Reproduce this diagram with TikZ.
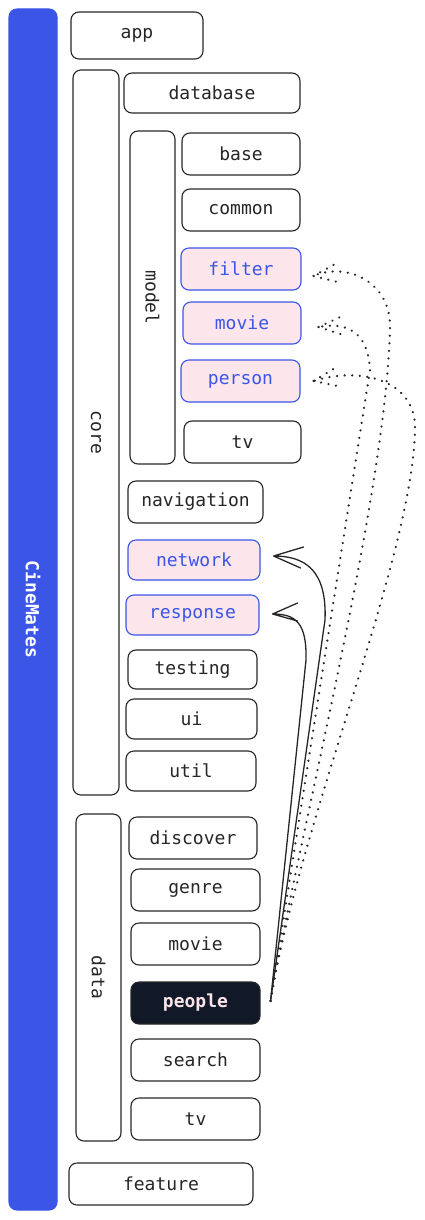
\documentclass[tikz,border=0pt]{standalone}
\usepackage{fontspec}
\setmonofont{DejaVu Sans Mono}
\usetikzlibrary{arrows.meta}
\definecolor{cmblue}{HTML}{3B55E6}
\definecolor{cmpink}{HTML}{FCE6EB}
\definecolor{cmdark}{HTML}{111827}
\definecolor{cmtext}{HTML}{FBE3E8}
\tikzset{
  box/.style={draw=black!85, line width=1.1pt, rounded corners=8pt, inner sep=0pt,
    font=\fontsize{18}{21}\selectfont\ttfamily, text=black!85},
  hl/.style={box, draw=cmblue, fill=cmpink, text=cmblue},
  vbox/.style={box, rotate=-90},
  dep/.style={draw=black!85, line width=1.3pt, line cap=round, line join=round},
  dotdep/.style={draw=black!85, line cap=round, dash pattern=on 0.1pt off 7.5pt, line width=2.4pt},
}
\begin{document}
\begin{tikzpicture}[x=1pt,y=-1pt]
\useasboundingbox (0,0) rectangle (425,1220);
% main bar
\node[box, draw=cmblue, fill=cmblue, rotate=-90, minimum width=1201pt, minimum height=48pt,
  text=white, font=\fontsize{18}{21}\selectfont\ttfamily\bfseries] (bar) at (33,609.5) {CineMates};
% top level
\node[box, minimum width=132pt, minimum height=47pt] (app) at (137,35.5) {app};
\node[vbox, minimum width=725pt, minimum height=46pt] (core) at (96,432.5) {core};
\node[box, minimum width=176pt, minimum height=40pt] (database) at (212,93) {database};
\node[vbox, minimum width=333pt, minimum height=45pt] (model) at (152.5,297.5) {model};
\node[box, minimum width=118pt, minimum height=42pt] (base) at (241,154) {base};
\node[box, minimum width=118pt, minimum height=42pt] (common) at (241,210) {common};
\node[hl, minimum width=120pt, minimum height=42pt] (filter) at (241,269) {filter};
\node[hl, minimum width=118pt, minimum height=42pt] (mmovie) at (242,323) {movie};
\node[hl, minimum width=119pt, minimum height=42pt] (person) at (240.5,381) {person};
\node[box, minimum width=117pt, minimum height=42pt] (mtv) at (242.5,442) {tv};
\node[box, minimum width=135pt, minimum height=42pt] (navigation) at (195.5,502) {navigation};
\node[hl, minimum width=132pt, minimum height=40pt] (network) at (194,560) {network};
\node[hl, minimum width=133pt, minimum height=40pt] (response) at (192.5,615) {response};
\node[box, minimum width=129pt, minimum height=39pt] (testing) at (192.5,669.5) {testing};
\node[box, minimum width=131pt, minimum height=40pt] (ui) at (191.5,719) {ui};
\node[box, minimum width=130pt, minimum height=40pt] (util) at (191,771) {util};
\node[vbox, minimum width=327pt, minimum height=45pt] (data) at (98.5,977.5) {data};
\node[box, minimum width=128pt, minimum height=42pt] (discover) at (193,838) {discover};
\node[box, minimum width=129pt, minimum height=42pt] (genre) at (195.5,890) {genre};
\node[box, minimum width=129pt, minimum height=42pt] (dmovie) at (195.5,944) {movie};
\node[box, fill=cmdark, text=cmtext, minimum width=129pt, minimum height=42pt,
  font=\fontsize{18}{21}\selectfont\ttfamily\bfseries] (people) at (195.5,1003) {people};
\node[box, minimum width=129pt, minimum height=42pt] (search) at (195.5,1060) {search};
\node[box, minimum width=129pt, minimum height=42pt] (dtv) at (195.5,1119) {tv};
\node[box, minimum width=184pt, minimum height=42pt] (feature) at (161,1184) {feature};
% connector ends
\coordinate (src) at ([xshift=10pt,yshift=2pt]people.east);
\coordinate (tnet) at ([xshift=13pt,yshift=4pt]network.east);
\coordinate (tresp) at ([xshift=13pt,yshift=1pt]response.east);
\coordinate (tfil) at ([xshift=12pt,yshift=-7pt]filter.east);
\coordinate (tmov) at ([xshift=17pt,yshift=-4pt]mmovie.east);
\coordinate (tper) at ([xshift=13pt,yshift=0pt]person.east);
% connectors
\draw[dep] (src) -- (325,620) .. controls (327,570) and (305,556) .. (tnet)
  -- ++(30,-9) (tnet) -- ++(27,12);
\draw[dep] (src) -- (306,660) .. controls (307,622) and (295,614) .. (tresp)
  -- ++(25,-11) (tresp) -- ++(25,7);
\draw[dotdep] (src) .. controls (300,830) and (385,500) .. (390,330)
  .. controls (392,280) and (345,262) .. (tfil) (tfil) -- ++(25,-14) (tfil) -- ++(28,7);
\draw[dotdep] (src) -- (370,370) .. controls (368,330) and (345,322) .. (tmov)
  (tmov) -- ++(26,-12) (tmov) -- ++(28,9);
\draw[dotdep] (src) .. controls (300,820) and (412,560) .. (415,430)
  .. controls (417,380) and (360,366) .. (tper) (tper) -- ++(25,-15) (tper) -- ++(29,6);
\end{tikzpicture}
\end{document}
